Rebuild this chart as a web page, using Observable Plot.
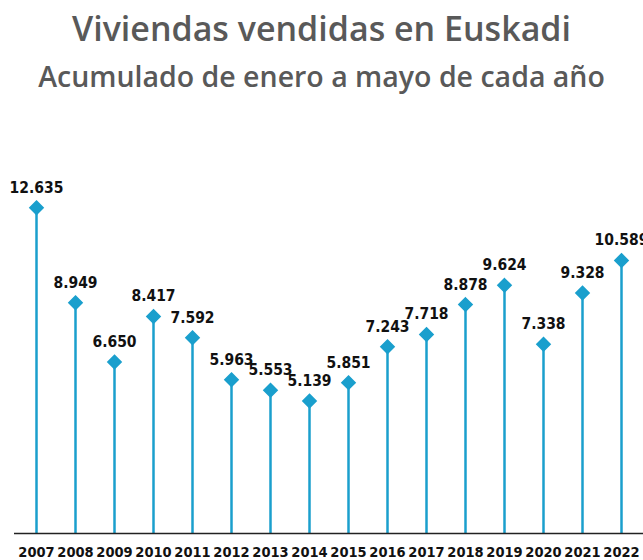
<!DOCTYPE html>
<html>
<head>
<meta charset="utf-8">
<script src="https://cdn.jsdelivr.net/npm/d3@7"></script>
<script src="https://cdn.jsdelivr.net/npm/@observablehq/plot@0.6"></script>
<style>
  html, body { margin: 0; padding: 0; background: #fff; }
  body { width: 643px; height: 560px; overflow: hidden; }
  .title { font-family: "Open Sans", sans-serif; font-weight: 600; color: #595959; text-align: center; }
  #t1 { font-size: 34px; height: 50px; line-height: 56px; }
  #t2 { font-size: 28.5px; height: 60px; line-height: 52px; }
  svg { display: block; }
  svg text { font-stretch: condensed; }
</style>
</head>
<body>
<div class="title" id="t1">Viviendas vendidas en Euskadi</div>
<div class="title" id="t2">Acumulado de enero a mayo de cada año</div>
<div id="chart"></div>
<script>
const years = ["2007","2008","2009","2010","2011","2012","2013","2014","2015","2016","2017","2018","2019","2020","2021","2022"];
const sales = [12635, 8949, 6650, 8417, 7592, 5963, 5553, 5139, 5851, 7243, 7718, 8878, 9624, 7338, 9328, 10589];

const data = years.map((y, i) => ({year: y, value: sales[i]}));
const fmt = v => d3.format(",")(v).replace(/,/g, ".");
const blue = "#1a9fcd";
const labelFont = "'DejaVu Sans Condensed', 'DejaVu Sans', sans-serif";

const chart = Plot.plot({
  width: 643,
  height: 450,
  marginLeft: 14,
  marginRight: 0,
  marginTop: 62,
  marginBottom: 27,
  x: {type: "point", domain: years, padding: 0.5, label: null},
  y: {domain: [0, 14000], axis: null},
  style: {fontFamily: labelFont, fontWeight: "bold", fontSize: "15px", color: "#111"},
  marks: [
    Plot.ruleX(data, {x: "year", y1: 0, y2: "value", stroke: blue, strokeWidth: 2.5}),
    Plot.ruleY([0], {stroke: "#222", strokeWidth: 1.5}),
    Plot.dot(data, {x: "year", y: "value", symbol: "diamond2", r: 6, fill: blue, stroke: blue}),
    Plot.text(data, {x: "year", y: "value", text: d => fmt(d.value), dy: -20, fill: "#111", fontSize: 15.5, fontWeight: "bold", fontFamily: labelFont}),
    Plot.axisX({tickSize: 0, tickPadding: 13, fontSize: 14.5, fontWeight: "bold", fill: "#111", label: null, fontFamily: labelFont})
  ]
});
document.getElementById("chart").appendChild(chart);
</script>
</body>
</html>
